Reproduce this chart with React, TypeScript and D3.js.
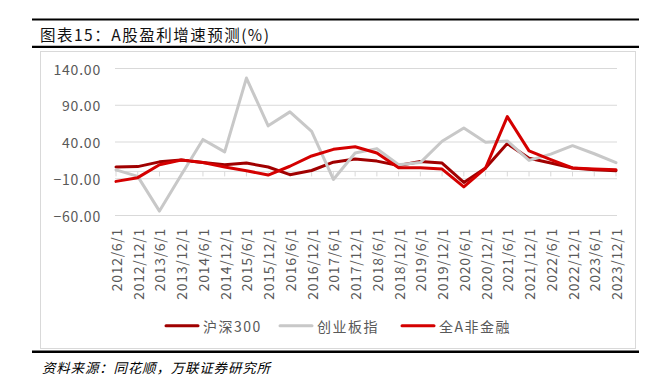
import React from "react";
import * as d3 from "d3";

const dates = [
  "2012/6/1", "2012/12/1", "2013/6/1", "2013/12/1", "2014/6/1", "2014/12/1",
  "2015/6/1", "2015/12/1", "2016/6/1", "2016/12/1", "2017/6/1", "2017/12/1",
  "2018/6/1", "2018/12/1", "2019/6/1", "2019/12/1", "2020/6/1", "2020/12/1",
  "2021/6/1", "2021/12/1", "2022/6/1", "2022/12/1", "2023/6/1", "2023/12/1",
];

const hs300 = [6, 6.5, 13, 15.5, 12, 9, 11.4, 6, -4.5, 1.2, 12.5, 17, 14, 8, 13.6, 11.4, -15, 4.6, 37.8, 18, 11.4, 4.6, 2.3, 1];
const cyb = [2, -6.8, -54, -5, 43.5, 26.5, 127, 62, 81, 54.5, -11, 25, 31, 9, 12, 41, 59, 39.5, 41.5, 15, 23.5, 35, 24, 12];
const allA = [-13.6, -8.5, 9, 15.5, 12, 6, 1, -5, 7, 21, 30, 33.5, 25, 5, 5, 3.2, -21, 4.6, 74.5, 28, 16, 4.6, 3.2, 2.3];

const yTicks = [-60, -10, 40, 90, 140];

const seriesNames = ["沪深300", "创业板指", "全A非金融"];
const seriesColors = ["#a00000", "#c8c8c8", "#d40000"];
const seriesData = [hs300, cyb, allA];

const title = "图表15：A股盈利增速预测(%)";
const source = "资料来源：同花顺，万联证券研究所";

const legendPos = [
  { lx: 166, tx: 203 },
  { lx: 280, tx: 317 },
  { lx: 402, tx: 439 },
];

export default function App() {
  const x = d3.scalePoint<string>().domain(dates).range([116, 616]);
  const y = d3.scaleLinear().domain([-60, 140]).range([215.5, 68.5]);
  const fmt = d3.format(".2f");
  const line = d3
    .line<number>()
    .x((_, i) => x(dates[i]) as number)
    .y((d) => y(d));

  const labelFont = "'Noto Sans CJK SC', 'Noto Sans', sans-serif";

  return (
    <svg
      width={665}
      height={385}
      style={{ position: "absolute", left: 0, top: 0, background: "#fff" }}
    >
      {/* header rules */}
      <line x1={32} x2={639} y1={19.5} y2={19.5} stroke="#000" strokeWidth={2.2} />
      <text
        x={40}
        y={34}
        fontSize={15.5}
        letterSpacing={1.5}
        fontFamily="'Noto Sans CJK SC', serif"
        dominantBaseline="central"
        fill="#111"
      >
        {title}
      </text>
      <line x1={32} x2={639} y1={46.8} y2={46.8} stroke="#000" strokeWidth={2.2} />

      {/* chart frame */}
      <rect x={40.5} y={51.5} width={595} height={297} fill="#fff" stroke="#d9d9d9" strokeWidth={1} />

      {/* gridlines */}
      {yTicks.map((t) => (
        <g key={t}>
          <line x1={115} x2={617} y1={y(t)} y2={y(t)} stroke="#d9d9d9" strokeWidth={1} />
          <text
            x={101}
            y={y(t)}
            textAnchor="end"
            dominantBaseline="central"
            fontSize={14}
            letterSpacing={0.8}
            fontFamily={labelFont}
            fill="#595959"
          >
            {fmt(t)}
          </text>
        </g>
      ))}

      {/* zero axis with ticks */}
      <line x1={115} x2={617} y1={y(0)} y2={y(0)} stroke="#d9d9d9" strokeWidth={1} />
      {dates.map((d) => (
        <line
          key={"t" + d}
          x1={x(d) as number}
          x2={x(d) as number}
          y1={y(0)}
          y2={y(0) + 5}
          stroke="#d9d9d9"
          strokeWidth={1}
        />
      ))}

      {/* x labels */}
      {dates.map((d) => (
        <text
          key={"l" + d}
          transform={`translate(${x(d)},228) rotate(-90)`}
          textAnchor="end"
          dominantBaseline="central"
          fontSize={14}
          letterSpacing={0.7}
          fontFamily={labelFont}
          fill="#595959"
        >
          {d}
        </text>
      ))}

      {/* series lines */}
      {seriesData.map((s, i) => (
        <path
          key={seriesNames[i]}
          d={line(s) as string}
          fill="none"
          stroke={seriesColors[i]}
          strokeWidth={3}
          strokeLinejoin="round"
          strokeLinecap="round"
        />
      ))}

      {/* legend */}
      {seriesNames.map((n, i) => (
        <g key={"lg" + n}>
          <line
            x1={legendPos[i].lx}
            x2={legendPos[i].lx + 32}
            y1={325.7}
            y2={325.7}
            stroke={seriesColors[i]}
            strokeWidth={3}
            strokeLinecap="round"
          />
          <text
            x={legendPos[i].tx}
            y={325.7}
            dominantBaseline="central"
            fontSize={14}
            letterSpacing={1.5}
            fontFamily={labelFont}
            fill="#595959"
          >
            {n}
          </text>
        </g>
      ))}

      {/* footer rule and source */}
      <line x1={32} x2={639} y1={351.7} y2={351.7} stroke="#000" strokeWidth={2.5} />
      <text
        x={42}
        y={366.5}
        dominantBaseline="central"
        fontSize={13.5}
        fontStyle="italic"
        letterSpacing={0.8}
        fontFamily="'Noto Sans CJK SC', serif"
        fill="#000"
      >
        {source}
      </text>
    </svg>
  );
}
